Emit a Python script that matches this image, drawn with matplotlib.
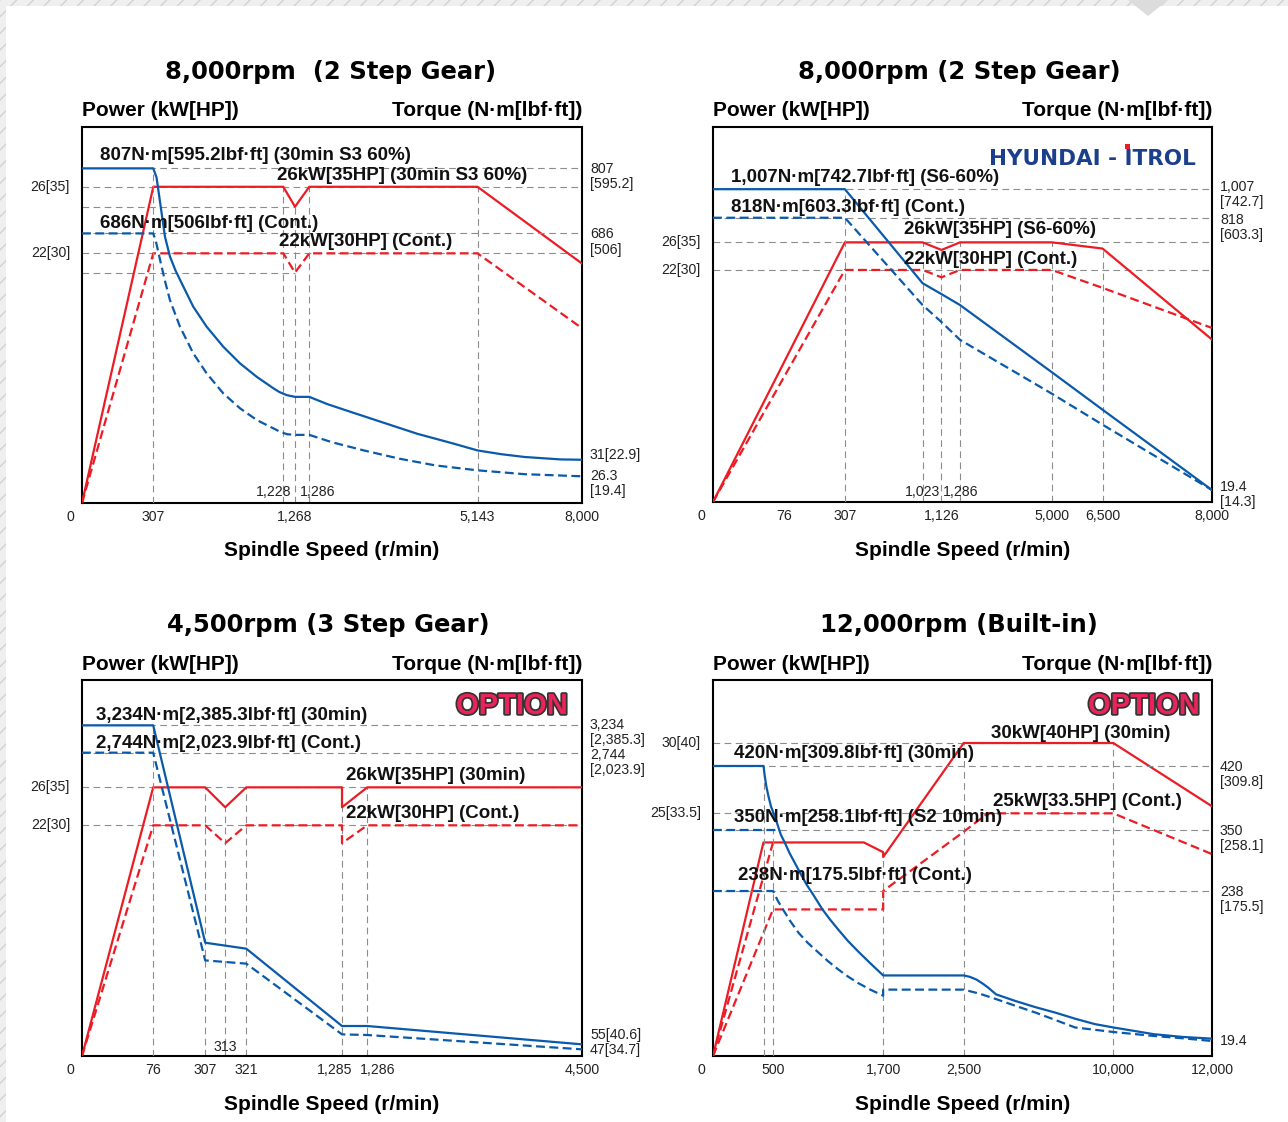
import matplotlib

matplotlib.use("Agg")

import matplotlib.pyplot as plt
import matplotlib.patheffects as pe
import numpy as np
from matplotlib.patches import Polygon, Rectangle

W, H = 1288, 1122
RED = "#ec1c24"
BLUE = "#0a5aab"
GREY = "#8c8c8c"
SANS = "Liberation Sans"
DASH = (0, (4, 2))

# ---- 8,000rpm (2 step gear, S3) ----
tl_rpm_pow = [0, 307, 1228, 1268, 1286, 5143, 8000]
tl_pow_s3 = [0, 26, 26, 24.8, 26, 26, 21.1]
tl_pow_cont = [0, 22, 22, 20.3, 22, 22, 15.4]
tl_rpm_trq_s3 = [0, 307, 330, 355, 390, 425, 465, 508, 590, 685, 803, 921, 1040, 1157, 1200, 1240,
                 1268, 1286, 1700, 2128, 2946, 3767, 4587, 5143, 5800, 6436, 7412, 8000]
tl_trq_s3 = [807, 807, 790, 744, 676, 619, 578, 542, 474, 416, 358, 310, 271, 238, 227, 218,
             213, 213, 192, 174, 140, 106, 78, 58, 47, 39, 32, 31]
tl_rpm_trq_cont = [0, 307, 330, 355, 390, 425, 496, 590, 685, 803, 921, 1040, 1157, 1200, 1240,
                   1268, 1286, 1798, 2537, 3357, 4176, 5143, 6436, 8000]
tl_trq_cont = [686, 686, 655, 609, 548, 493, 416, 339, 281, 223, 180, 146, 122, 113, 105,
               103, 103, 82, 58, 34, 29.4, 28.0, 26.9, 26.3]
tl_ticks = [0, 307, 1268, 5143, 8000]
tl_tick_labels = ["0", "307", "1,268", "5,143", "8,000"]

# ---- 8,000rpm (2 step gear, S6) ----
tr_rpm_pow = [0, 76, 307, 1023, 1126, 1286, 5000, 6500, 8000]
tr_pow_s6 = [0, 13.3, 26, 26, 24.9, 26, 26, 25.1, 15.4]
tr_pow_cont = [0, 11.9, 22, 22, 21.3, 22, 22, 20.3, 16.5]
tr_rpm_trq_s6 = [0, 307, 1023, 1126, 1286, 5000, 6500, 8000]
tr_trq_s6 = [1007, 1007, 626, 594, 562, 365, 255, 19.4]
tr_rpm_trq_cont = [0, 307, 1023, 1126, 1286, 5000, 6500, 8000]
tr_trq_cont = [818, 818, 562, 512, 460, 302, 211, 19.4]
tr_ticks = [0, 76, 307, 1126, 5000, 6500, 8000]
tr_tick_labels = ["0", "76", "307", "1,126", "5,000", "6,500", "8,000"]

# ---- 4,500rpm (3 step gear) ----
bl_rpm_pow = [0, 76, 307, 313, 321, 1285, 1285, 1286, 4500]
bl_pow_30 = [0, 26, 26, 23.9, 26, 26, 23.9, 26, 26]
bl_pow_cont = [0, 22, 22, 20.3, 22, 22, 20.3, 22, 22]
bl_rpm_trq = [0, 76, 307, 321, 1285, 1286, 4500]
bl_trq_30 = [3234, 3234, 992, 937, 224, 224, 55]
bl_trq_cont = [2744, 2744, 829, 799, 147, 141, 47]
bl_ticks = [0, 76, 307, 321, 1285, 1286, 4500]
bl_tick_labels = ["0", "76", "307", "321", "1,285", "1,286", "4,500"]

# ---- 12,000rpm (built-in) ----
br_rpm_pow_30 = [0, 420, 1490, 1700, 1700, 2500, 10000, 12000]
br_pow_30 = [0, 22.0, 22.0, 21.0, 20.5, 30, 30, 25.5]
br_rpm_pow_s2 = [0, 500]
br_pow_s2 = [0, 22.0]
br_rpm_pow_cont = [0, 500, 1700, 1700, 2500, 3700, 10000, 12000]
br_pow_cont = [0, 15.1, 15.1, 17.0, 23.1, 25, 25, 20.8]
br_rpm_trq_30 = [0, 421, 430, 444, 462, 483, 512, 543, 585, 629, 680, 737, 800, 865, 950, 1037,
                 1120, 1210, 1310, 1424, 1560, 1700, 2500, 2800, 3133, 3450, 3726, 4121, 5112,
                 6100, 7091, 8080, 9069, 10000, 10824, 11400, 12000]
br_trq_30 = [420, 420, 410, 398, 387, 376, 367, 358, 342, 327, 308, 290, 270, 250, 230, 211,
             196, 181, 165, 149, 131, 113, 113, 111, 107, 101, 95, 85, 75,
             66, 58, 49, 41, 36, 26, 22, 19.4]
br_rpm_trq_s2 = [0, 560]
br_trq_s2 = [350, 350]
br_rpm_trq_cont = [0, 500, 550, 607, 690, 779, 880, 994, 1100, 1210, 1310, 1424, 1560, 1700,
                   1700, 2500, 3300, 4121, 5100, 6102, 7100, 8081, 10000, 10824, 11400, 12000]
br_trq_cont = [238, 238, 224, 211, 193, 176, 161, 147, 134, 122, 112, 102, 92, 83,
               92, 92, 86, 78, 68, 58, 47, 36, 29.3, 23.4, 20.0, 16.8]
br_ticks = [0, 500, 1700, 2500, 10000, 12000]
br_tick_labels = ["0", "500", "1,700", "2,500", "10,000", "12,000"]

fig = plt.figure(figsize=(W / 100, H / 100), dpi=100)
fig.patch.set_facecolor("white")


def ptext(x, y, s, **kw):
    kw.setdefault("family", SANS)
    fig.text(x / W, 1 - (y + 2) / H, s, **kw)


def piecewise(values, fracs):
    v = np.asarray(values, float)
    f = np.asarray(fracs, float)
    return (lambda x: np.interp(x, v, f), lambda y: np.interp(y, f, v))


def make_panel(rect, xmap, pmap, tmap):
    x0, y0, x1, y1 = rect
    ax = fig.add_axes([x0 / W, 1 - y1 / H, (x1 - x0) / W, (y1 - y0) / H])
    ax.set_xscale("function", functions=piecewise(*xmap))
    ax.set_yscale("function", functions=piecewise(*pmap))
    ax2 = ax.twinx()
    ax2.set_yscale("function", functions=piecewise(*tmap))
    for a in (ax, ax2):
        a.set_xticks([])
        a.set_yticks([])
        a.set_xticks([], minor=True)
        a.set_yticks([], minor=True)
    for s in ax.spines.values():
        s.set_linewidth(1.5)
        s.set_color("black")
    for s in ax2.spines.values():
        s.set_visible(False)
    return ax, ax2


def finish(ax, ax2, xmap, pmap, tmap):
    ax.set_xlim(xmap[0][0], xmap[0][-1])
    ax.set_ylim(pmap[0][0], pmap[0][-1])
    ax2.set_ylim(tmap[0][0], tmap[0][-1])


def hline(a, level, x0=None, x1=None):
    if x0 is None:
        a.axhline(level, color=GREY, lw=0.8, ls=(0, (6, 4)), zorder=1)
    else:
        a.plot([x0, x1], [level, level], color=GREY, lw=0.8, ls=(0, (6, 4)), zorder=1)


def vline(a, x, top):
    a.plot([x, x], [0, top], color=GREY, lw=0.8, ls=(0, (6, 4)), zorder=1)


def xlabels(ax, ticks, labels, offsets):
    for t, s, dx in zip(ticks, labels, offsets):
        ax.annotate(s, xy=(t, 0), xycoords=("data", "axes fraction"), xytext=(dx, -14),
                    textcoords="offset pixels", ha="center", va="center", fontsize=10.2,
                    family=SANS, color="#222222")


def left_label(ax, level, s):
    ax.annotate(s, xy=(0, level), xycoords=("axes fraction", "data"), xytext=(-12, 0),
                textcoords="offset pixels", ha="right", va="center", fontsize=10.2,
                family=SANS, color="#222222")


def right_label(ax2, level, s, dy, va="top"):
    ax2.annotate(s, xy=(1, level), xycoords=("axes fraction", "data"), xytext=(8, dy),
                 textcoords="offset pixels", ha="left", va=va, fontsize=10.2, family=SANS,
                 color="#222222", linespacing=1.1)


def inner_label(ax, x, s, dx, dy, ha):
    ax.annotate(s, xy=(x, 0), xycoords=("data", "axes fraction"), xytext=(dx, dy),
                textcoords="offset pixels", ha=ha, va="center", fontsize=10.2, family=SANS,
                color="#222222")


def curve(a, x, y, color, dashed=False):
    a.plot(x, y, color=color, lw=1.6, ls=DASH if dashed else "-", zorder=3)


def headers(cx, left, right, title, y_title, y_head, y_xlabel):
    ptext(cx, y_title, title, ha="center", va="center", family="DejaVu Sans", fontsize=17.5,
          fontweight="bold")
    ptext(left, y_head, "Power (kW[HP])", ha="left", va="center", fontsize=15, fontweight="bold")
    ptext(right, y_head, "Torque (N·m[lbf·ft])", ha="right", va="center", fontsize=15,
          fontweight="bold")
    ptext((left + right) / 2, y_xlabel, "Spindle Speed (r/min)", ha="center", va="center",
          fontsize=15, fontweight="bold")


def note(x, y, s):
    ptext(x, y, s, ha="left", va="center", fontsize=13.5, fontweight="bold", color="#111111")


def option_badge(x, y):
    ptext(x, y, "OPTION", ha="center", va="center", fontsize=21, fontweight="bold",
          color="#e8245a", path_effects=[pe.withStroke(linewidth=2.5, foreground="#333333")])


# background border
fig.patches.append(Rectangle((0, 1 - 6 / H), 1, 6 / H, transform=fig.transFigure,
                             facecolor="#efefef", edgecolor="#d2d2d2", hatch="//", lw=0))
fig.patches.append(Rectangle((0, 0), 6 / W, 1, transform=fig.transFigure,
                             facecolor="#efefef", edgecolor="#d2d2d2", hatch="//", lw=0))
fig.patches.append(Polygon([(1128 / W, 1), (1168 / W, 1), (1148 / W, 1 - 16 / H)],
                           closed=True, transform=fig.transFigure, facecolor="#dcdcdc", lw=0))

# ---------------- top left ----------------
xm = ([0, 307, 1228, 1268, 1286, 5143, 8000], [0, 0.1426, 0.4026, 0.426, 0.4546, 0.791, 1.0])
pm = ([0, 22, 26, 29.6], [0, 0.664, 0.841, 1.0])
tm = ([0, 26.3, 31, 686, 807, 884], [0, 0.071, 0.115, 0.717, 0.890, 1.0])
ax, ax2 = make_panel((82, 127, 582, 503), xm, pm, tm)
hline(ax, 26)
hline(ax, 22)
hline(ax, 24.8, 0, 1268)
hline(ax, 20.3, 0, 1268)
hline(ax2, 807)
hline(ax2, 686)
vline(ax2, 307, 807)
vline(ax, 1228, 26)
vline(ax, 1268, 24.8)
vline(ax, 1286, 26)
vline(ax, 5143, 26)
curve(ax, tl_rpm_pow, tl_pow_s3, RED)
curve(ax, tl_rpm_pow, tl_pow_cont, RED, True)
curve(ax2, tl_rpm_trq_s3, tl_trq_s3, BLUE)
curve(ax2, tl_rpm_trq_cont, tl_trq_cont, BLUE, True)
xlabels(ax, tl_ticks, tl_tick_labels, [-12, 0, 0, 0, 0])
inner_label(ax, 1268, "1,228", -4, 11, "right")
inner_label(ax, 1268, "1,286", 5, 11, "left")
left_label(ax, 26, "26[35]")
left_label(ax, 22, "22[30]")
right_label(ax2, 807, "807\n[595.2]", 6)
right_label(ax2, 686, "686\n[506]", 6)
right_label(ax2, 31, "31[22.9]", 5, "center")
right_label(ax2, 26.3, "26.3\n[19.4]", 7)
finish(ax, ax2, xm, pm, tm)
headers(331, 82, 582, "8,000rpm  (2 Step Gear)", 70, 108, 548)
note(100, 153, "807N·m[595.2lbf·ft] (30min S3 60%)")
note(277, 173, "26kW[35HP] (30min S3 60%)")
note(100, 221, "686N·m[506lbf·ft] (Cont.)")
note(279, 239, "22kW[30HP] (Cont.)")

# ---------------- top right ----------------
xm = ([0, 76, 307, 1023, 1126, 1286, 5000, 6500, 8000],
      [0, 0.1429, 0.2643, 0.42, 0.4579, 0.495, 0.679, 0.7807, 1.0])
pm = ([0, 22, 26, 42.7], [0, 0.6188, 0.6924, 1.0])
tm = ([0, 19.4, 818, 1007, 1418], [0, 0.0319, 0.758, 0.8342, 1.0])
ax, ax2 = make_panel((713, 127, 1212, 502), xm, pm, tm)
hline(ax, 26)
hline(ax, 22)
hline(ax2, 1007)
hline(ax2, 818)
vline(ax2, 307, 1007)
vline(ax, 1023, 26)
vline(ax, 1126, 24.9)
vline(ax, 1286, 26)
vline(ax, 5000, 26)
vline(ax, 6500, 25.1)
curve(ax, tr_rpm_pow, tr_pow_s6, RED)
curve(ax, tr_rpm_pow, tr_pow_cont, RED, True)
curve(ax2, tr_rpm_trq_s6, tr_trq_s6, BLUE)
curve(ax2, tr_rpm_trq_cont, tr_trq_cont, BLUE, True)
xlabels(ax, tr_ticks, tr_tick_labels, [-12, 0, 0, 0, 0, 0, 0])
inner_label(ax, 1126, "1,023", -1, 10, "right")
inner_label(ax, 1126, "1,286", 1, 10, "left")
left_label(ax, 26, "26[35]")
left_label(ax, 22, "22[30]")
right_label(ax2, 1007, "1,007\n[742.7]", 9)
right_label(ax2, 818, "818\n[603.3]", 5)
right_label(ax2, 19.4, "19.4\n[14.3]", 10)
finish(ax, ax2, xm, pm, tm)
headers(959, 713, 1212, "8,000rpm (2 Step Gear)", 70, 108, 548)
note(731, 176, "1,007N·m[742.7lbf·ft] (S6-60%)")
note(731, 205, "818N·m[603.3lbf·ft] (Cont.)")
note(904, 228, "26kW[35HP] (S6-60%)")
note(904, 257, "22kW[30HP] (Cont.)")
ptext(989, 157, "HYUNDAI - ITROL", ha="left", va="center", family="DejaVu Sans", fontsize=15.5,
      fontweight="bold", color="#1b3f8b")
fig.patches.append(Rectangle((1125 / W, 1 - 149 / H), 5 / W, 5 / H, transform=fig.transFigure,
                             facecolor=RED, lw=0))

# ---------------- bottom left ----------------
xm = ([0, 76, 307, 313, 321, 1285, 1286, 4500],
      [0, 0.1424, 0.2464, 0.2864, 0.3286, 0.52, 0.5705, 1.0])
pm = ([0, 22, 26, 37.3], [0, 0.6135, 0.7145, 1.0])
tm = ([0, 47, 55, 2744, 3234, 4047], [0, 0.0177, 0.031, 0.8067, 0.8794, 1.0])
ax, ax2 = make_panel((82, 680, 582, 1056), xm, pm, tm)
hline(ax, 26)
hline(ax, 22)
hline(ax2, 3234)
hline(ax2, 2744)
vline(ax2, 76, 3234)
vline(ax, 307, 26)
vline(ax, 313, 23.9)
vline(ax, 321, 26)
vline(ax, 1285, 26)
vline(ax, 1286, 26)
curve(ax, bl_rpm_pow, bl_pow_30, RED)
curve(ax, bl_rpm_pow, bl_pow_cont, RED, True)
curve(ax2, bl_rpm_trq, bl_trq_30, BLUE)
curve(ax2, bl_rpm_trq, bl_trq_cont, BLUE, True)
xlabels(ax, bl_ticks, bl_tick_labels, [-12, 0, 0, 0, -7, 10, 0])
inner_label(ax, 313, "313", 0, 9, "center")
left_label(ax, 26, "26[35]")
left_label(ax, 22, "22[30]")
right_label(ax2, 3234, "3,234\n[2,385.3]", 7)
right_label(ax2, 2744, "2,744\n[2,023.9]", 5)
right_label(ax2, 55, "55[40.6]", 9, "center")
right_label(ax2, 47, "47[34.7]", -1, "center")
finish(ax, ax2, xm, pm, tm)
headers(328, 82, 582, "4,500rpm (3 Step Gear)", 623, 662, 1102)
note(96, 713, "3,234N·m[2,385.3lbf·ft] (30min)")
note(96, 742, "2,744N·m[2,023.9lbf·ft] (Cont.)")
note(346, 773, "26kW[35HP] (30min)")
note(346, 811, "22kW[30HP] (Cont.)")
option_badge(512, 704)

# ---------------- bottom right ----------------
xm = ([0, 500, 1700, 2500, 10000, 12000], [0, 0.1203, 0.341, 0.5024, 0.8022, 1.0])
pm = ([0, 25, 30, 34.5], [0, 0.6454, 0.8324, 1.0])
tm = ([0, 19.4, 238, 350, 420, 513.6], [0, 0.0461, 0.4388, 0.6002, 0.7713, 1.0])
ax, ax2 = make_panel((713, 680, 1212, 1056), xm, pm, tm)
hline(ax, 30, 0, 10000)
hline(ax, 25, 0, 10000)
hline(ax2, 420)
hline(ax2, 350)
hline(ax2, 238)
vline(ax2, 421, 420)
vline(ax2, 500, 350)
vline(ax, 1700, 20.5)
vline(ax, 2500, 30)
vline(ax, 10000, 30)
curve(ax, br_rpm_pow_30, br_pow_30, RED)
curve(ax, br_rpm_pow_s2, br_pow_s2, RED, True)
curve(ax, br_rpm_pow_cont, br_pow_cont, RED, True)
curve(ax2, br_rpm_trq_30, br_trq_30, BLUE)
curve(ax2, br_rpm_trq_s2, br_trq_s2, BLUE, True)
curve(ax2, br_rpm_trq_cont, br_trq_cont, BLUE, True)
xlabels(ax, br_ticks, br_tick_labels, [-12, 0, 0, 0, 0, 0])
left_label(ax, 30, "30[40]")
left_label(ax, 25, "25[33.5]")
right_label(ax2, 420, "420\n[309.8]", 6)
right_label(ax2, 350, "350\n[258.1]", 6)
right_label(ax2, 238, "238\n[175.5]", 6)
right_label(ax2, 19.4, "19.4", -2, "center")
finish(ax, ax2, xm, pm, tm)
headers(959, 713, 1212, "12,000rpm (Built-in)", 623, 662, 1102)
note(991, 731, "30kW[40HP] (30min)")
note(734, 752, "420N·m[309.8lbf·ft] (30min)")
note(993, 800, "25kW[33.5HP] (Cont.)")
note(734, 815, "350N·m[258.1lbf·ft] (S2 10min)")
note(738, 874, "238N·m[175.5lbf·ft] (Cont.)")
option_badge(1144, 704)

fig.savefig("out.png", dpi=100)
plt.close(fig)
